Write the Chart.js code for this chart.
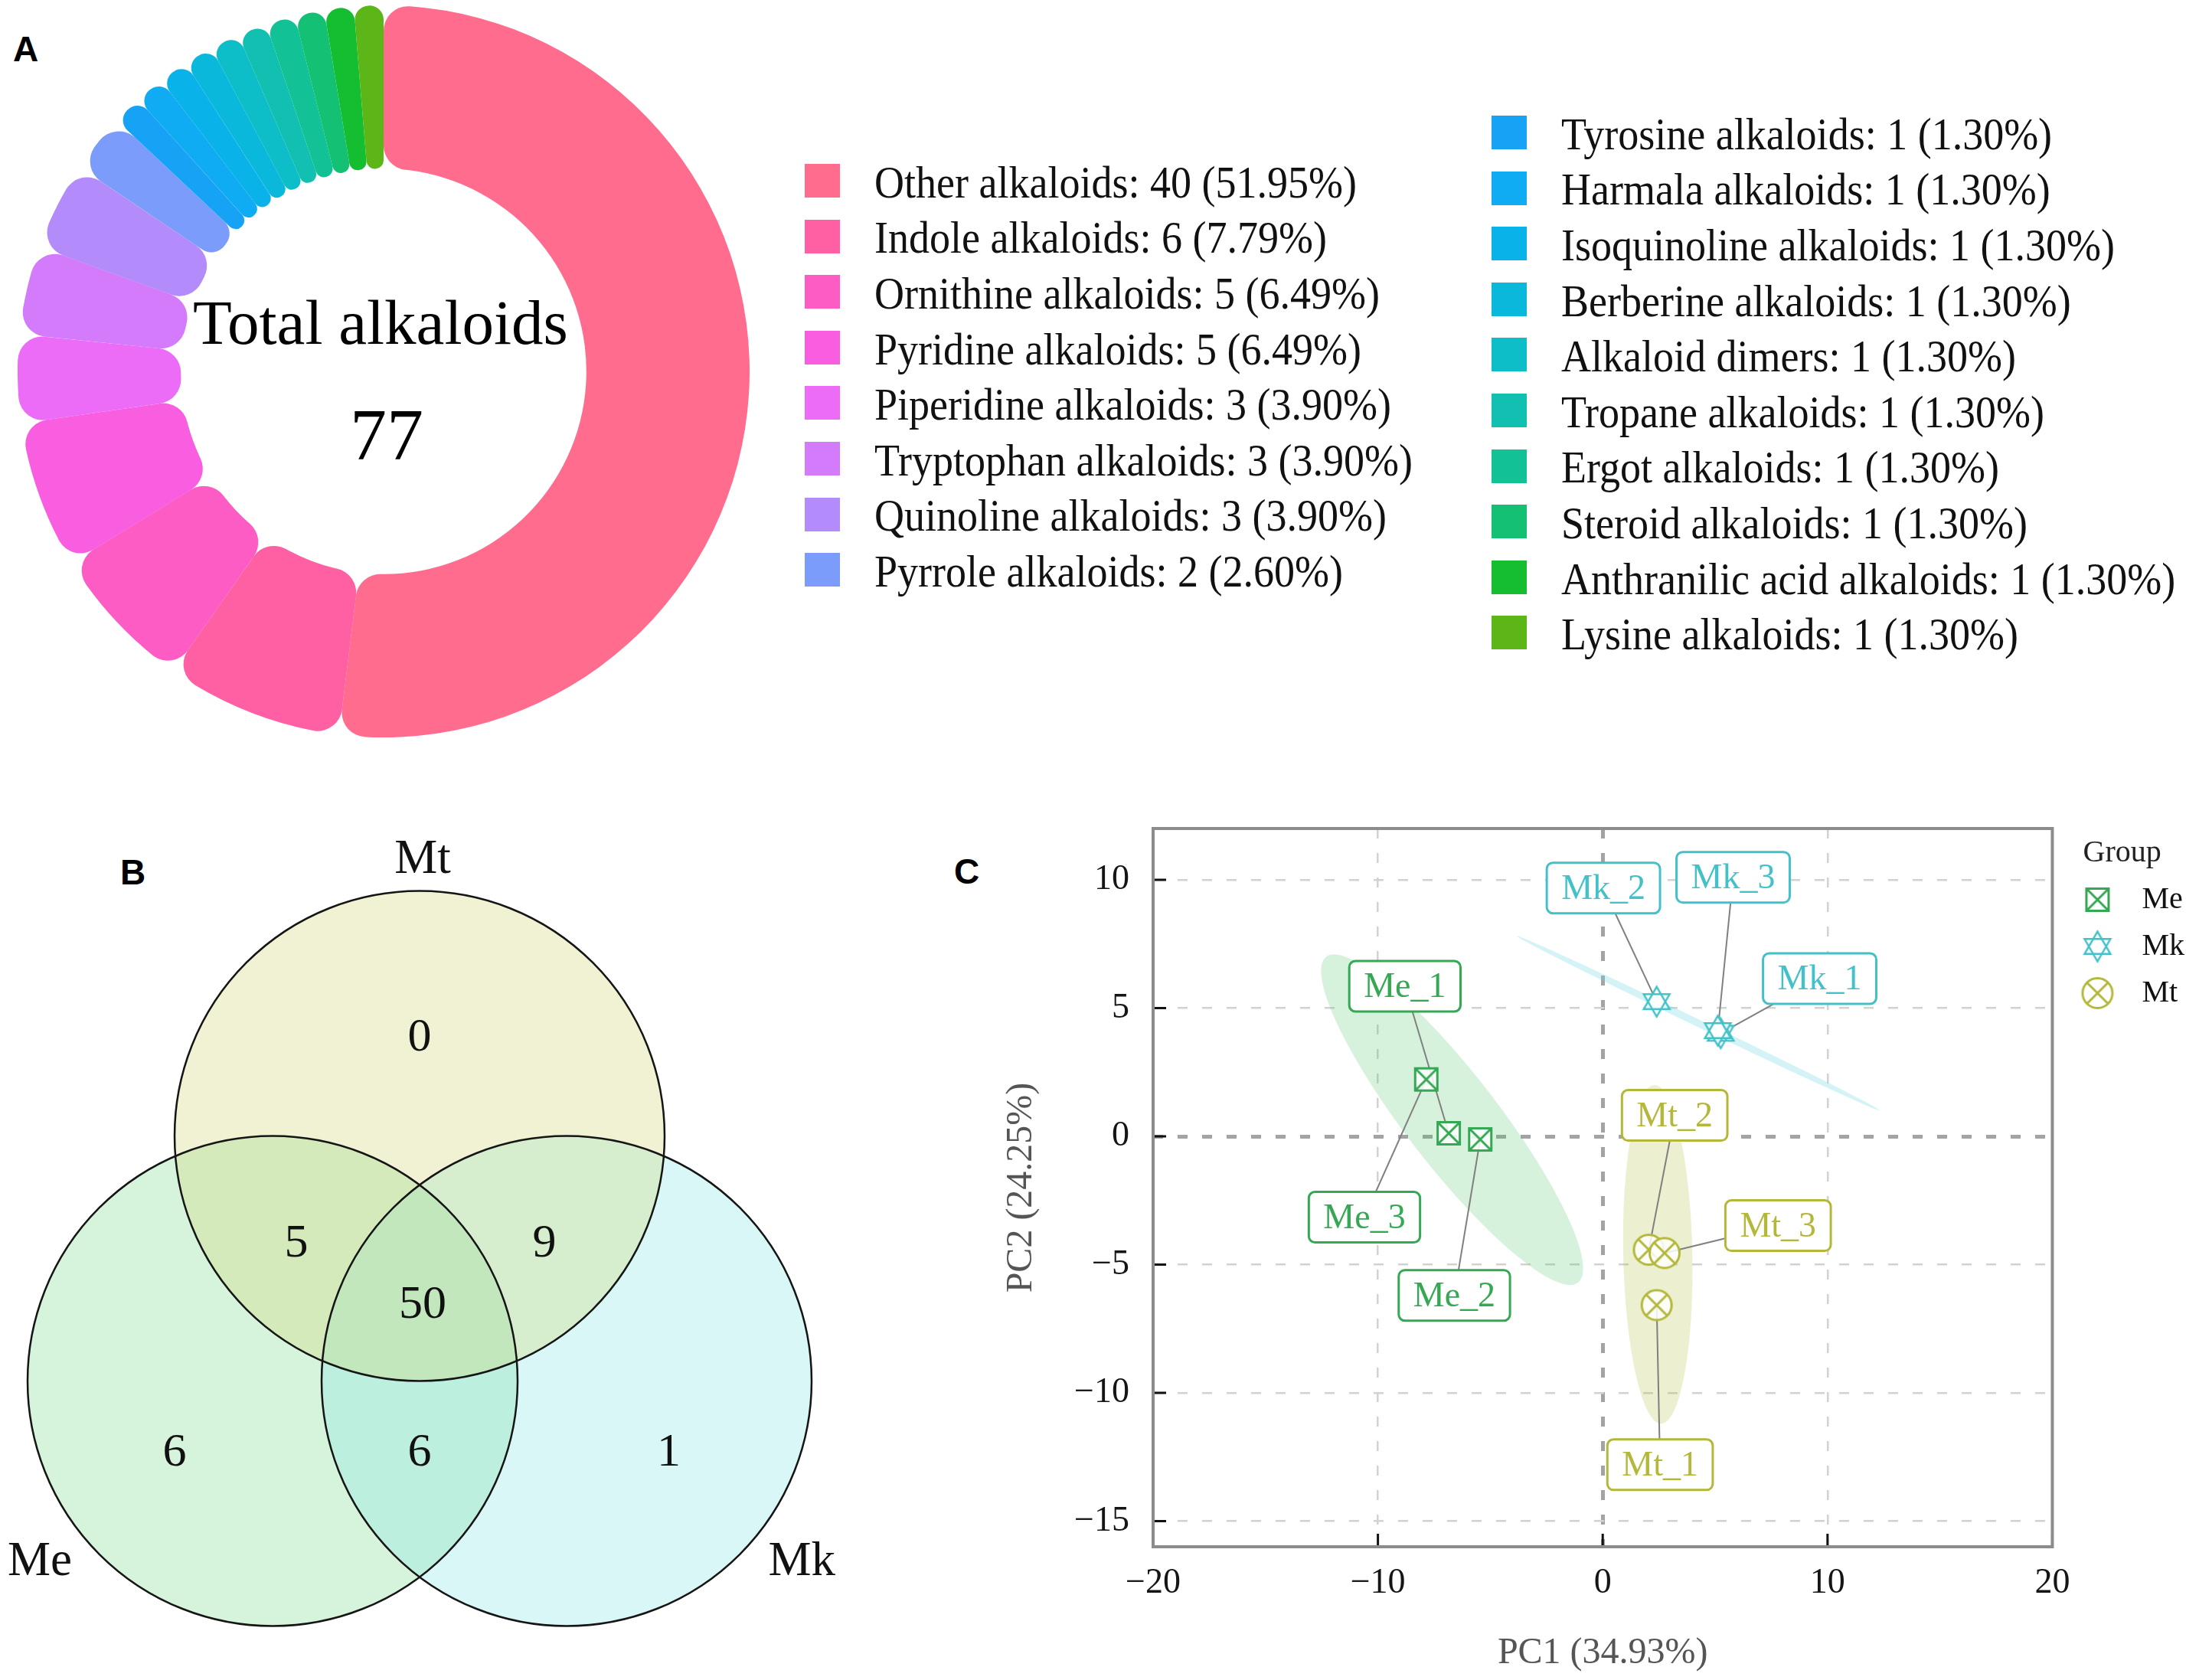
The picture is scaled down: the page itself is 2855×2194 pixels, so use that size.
<!DOCTYPE html>
<html>
<head>
<meta charset="utf-8">
<script src="https://cdn.jsdelivr.net/npm/chart.js@4.4.1/dist/chart.umd.min.js"></script>
<style>
html,body{margin:0;padding:0;background:#fff;}
body{width:2855px;height:2194px;overflow:hidden;position:relative;font-family:'Liberation Serif','Times New Roman',serif;}
canvas{position:absolute;}
.panel{position:absolute;font-family:'Liberation Sans',Arial,sans-serif;font-weight:bold;font-size:46px;line-height:46px;color:#000;}
.ctext{position:absolute;color:#000;white-space:nowrap;text-align:center;}
.sw{position:absolute;width:46px;height:44px;}
.lt{position:absolute;font-size:60px;line-height:60px;white-space:nowrap;transform:scaleX(0.9);transform-origin:0 0;color:#111;}
</style>
</head>
<body>
<div class="panel" style="left:17px;top:41px">A</div>
<div class="panel" style="left:157px;top:1116px">B</div>
<div class="panel" style="left:1246px;top:1115px">C</div>

<canvas id="donut" width="956" height="956" style="left:23px;top:7px;width:956px;height:956px"></canvas>
<div id="centerTitle" class="ctext" style="left:197px;width:600px;top:380px;font-size:83px;line-height:83px"></div>
<div id="centerTotal" class="ctext" style="left:305px;width:400px;top:520px;font-size:96px;line-height:96px"></div>
<div id="legendA"></div>

<canvas id="venn" width="1100" height="1104" style="left:0px;top:1090px;width:1100px;height:1104px"></canvas>
<canvas id="pca" width="1623" height="1194" style="left:1240px;top:1000px;width:1623px;height:1194px"></canvas>

<script>
// ================= DATA =================
// Panel A: alkaloid classes
const alkaloidClasses = ['Other alkaloids','Indole alkaloids','Ornithine alkaloids','Pyridine alkaloids','Piperidine alkaloids','Tryptophan alkaloids','Quinoline alkaloids','Pyrrole alkaloids','Tyrosine alkaloids','Harmala alkaloids','Isoquinoline alkaloids','Berberine alkaloids','Alkaloid dimers','Tropane alkaloids','Ergot alkaloids','Steroid alkaloids','Anthranilic acid alkaloids','Lysine alkaloids'];
const alkaloidCounts = [40,6,5,5,3,3,3,2,1,1,1,1,1,1,1,1,1,1];
const alkaloidColors = ['#FF6C8E','#FF5FA3','#FD5CC4','#FA5EE0','#EC6BF7','#D47BFB','#B38BFA','#7C9CFB','#17A3F5','#0FABF3','#0AB2EA','#0AB8DB','#0DBDC8','#12C0B2','#12C196','#14C073','#14BE30','#5DB617'];
const centerTitleText = 'Total alkaloids';

// Panel B: Venn
const vennSets = ['Me','Mk','Mt'];
const vennRegions = ['Mt only','Me∩Mt','Mt∩Mk','Me∩Mk∩Mt','Me only','Me∩Mk','Mk only'];
const vennCounts = [0,5,9,50,6,6,1];

// Panel C: PCA
const pcaGroups = ['Me','Mk','Mt'];
const meSamples = ['Me_1','Me_2','Me_3'];
const mePC1 = [-6.85,-5.45,-7.85];
const mePC2 = [0.12,-0.12,2.22];
const mkSamples = ['Mk_1','Mk_2','Mk_3'];
const mkPC1 = [5.25,2.4,5.12];
const mkPC2 = [4.02,5.25,4.12];
const mtSamples = ['Mt_1','Mt_2','Mt_3'];
const mtPC1 = [2.4,2.05,2.75];
const mtPC2 = [-6.58,-4.42,-4.55];
const pc1Title = 'PC1 (34.93%)';
const pc2Title = 'PC2 (24.25%)';
const legendTitle = 'Group';

// ================= LAYOUT / STYLE =================
const groupColors = {Me:'#34a853', Mk:'#43c1c8', Mt:'#b3b83a'};
// label box centres (data units) for the repelled sample labels
const meLabelPos = [[-8.8,5.85],[-6.6,-6.2],[-10.6,-3.15]];
const mkLabelPos = [[9.65,6.15],[0.03,9.68],[5.8,10.1]];
const mtLabelPos = [[2.55,-12.8],[3.2,0.82],[7.8,-3.48]];
// confidence ellipses: major-axis endpoints (data units) + minor/major ratio
const ellipseStyles = [
  {from:[-12.3,7.0], to:[-1.1,-5.7], ratio:0.223, fill:'rgba(70,190,95,0.22)'},
  {from:[-3.8,7.8], to:[12.33,1.01], ratio:0.018, fill:'rgba(110,215,225,0.3)'},
  {from:[2.3,2.0], to:[2.6,-11.2], ratio:0.204, fill:'rgba(185,190,70,0.25)'}
];
// Venn layout in circle-radius units
const vennCentres = [[-0.6,-0.5],[0.6,-0.5],[0,0.5]];
const vennFills = ['rgba(120,215,135,0.30)','rgba(130,228,228,0.30)','rgba(205,212,110,0.30)'];
const vennRegionPos = [[0,0.9],[-0.503,0.058],[0.509,0.058],[0.0125,-0.19],[-1.0,-0.793],[0,-0.793],[1.017,-0.793]];
const vennSetLabelPos = [[-1.55,-1.24],[1.56,-1.24],[0.0125,1.624]];

Chart.defaults.font.family = "'Liberation Serif','Times New Roman',serif";
Chart.defaults.color = '#111';

// ================= PANEL A =================
const total = alkaloidCounts.reduce((a,b)=>a+b,0);
document.getElementById('centerTitle').textContent = centerTitleText;
document.getElementById('centerTotal').textContent = String(total);

new Chart(document.getElementById('donut'), {
  type:'doughnut',
  data:{labels:alkaloidClasses, datasets:[{data:alkaloidCounts, backgroundColor:alkaloidColors, borderWidth:0, borderRadius:32}]},
  options:{responsive:false, animation:false, events:[], cutout:'55.4%',
    plugins:{legend:{display:false}, tooltip:{enabled:false}}}
});

(function buildLegend(){
  const host = document.getElementById('legendA');
  alkaloidClasses.forEach((name,i)=>{
    const left = i < 8;
    const k = left ? i : i-8;
    const cy = left ? 236 + k*72.6 : 173 + k*72.6;
    const sx = left ? 1051 : 1948;
    const tx = left ? 1142 : 2039;
    const sw = document.createElement('div');
    sw.className = 'sw';
    sw.style.left = sx+'px'; sw.style.top = (cy-22)+'px';
    sw.style.background = alkaloidColors[i];
    host.appendChild(sw);
    const t = document.createElement('div');
    t.className = 'lt';
    t.style.left = tx+'px'; t.style.top = (cy-28.25)+'px';
    const pct = (alkaloidCounts[i]/total*100).toFixed(2);
    t.textContent = name + ': ' + alkaloidCounts[i] + ' (' + pct + '%)';
    host.appendChild(t);
  });
})();

// ================= PANEL B =================
const unitPx = ctx => { const s = ctx.chart.scales.x; return s.getPixelForValue(1) - s.getPixelForValue(0); };
const vennText = {
  id:'vennText',
  afterDatasetsDraw(chart){
    const {ctx, scales:{x,y}} = chart;
    ctx.save();
    ctx.fillStyle = '#111';
    ctx.textAlign = 'center';
    ctx.textBaseline = 'middle';
    ctx.font = "62px 'Liberation Serif'";
    vennCounts.forEach((c,i)=>{
      ctx.fillText(String(c), x.getPixelForValue(vennRegionPos[i][0]), y.getPixelForValue(vennRegionPos[i][1]));
    });
    ctx.font = "63px 'Liberation Serif'";
    vennSets.forEach((s,i)=>{
      ctx.fillText(s, x.getPixelForValue(vennSetLabelPos[i][0]), y.getPixelForValue(vennSetLabelPos[i][1]));
    });
    ctx.restore();
  }
};
new Chart(document.getElementById('venn'), {
  type:'scatter',
  data:{datasets:[
    {label:'outline', data:vennCentres.map(p=>({x:p[0],y:p[1]})), pointRadius:unitPx, pointBackgroundColor:'rgba(0,0,0,0)', pointBorderColor:'#151515', pointBorderWidth:2.5},
    {label:'fill', data:vennCentres.map(p=>({x:p[0],y:p[1]})), pointRadius:unitPx, pointBackgroundColor:vennFills, pointBorderWidth:0}
  ]},
  options:{responsive:false, animation:false, events:[], layout:{padding:0},
    plugins:{legend:{display:false}, tooltip:{enabled:false}},
    scales:{x:{type:'linear', display:false, min:-1.7125, max:1.725}, y:{type:'linear', display:false, min:-1.7203, max:1.7297}}},
  plugins:[vennText]
});

// ================= PANEL C =================
function makeMarker(kind, color){
  const size = kind === 'box' ? 34 : 44;
  const c = document.createElement('canvas');
  c.width = size; c.height = size;
  const g = c.getContext('2d');
  g.strokeStyle = color; g.lineWidth = 3; g.fillStyle = 'rgba(255,255,255,0.85)';
  const m = 2.5, s = size, cx = s/2, cy = s/2;
  const tri = angs => {
    const R = s/2 - 2.5;
    g.beginPath();
    angs.forEach((a,j)=>{ const r = a*Math.PI/180; const px = cx + R*Math.cos(r), py = cy + R*Math.sin(r); if(j===0) g.moveTo(px,py); else g.lineTo(px,py); });
    g.closePath();
  };
  if (kind === 'box'){
    g.fillRect(m,m,s-2*m,s-2*m);
    g.strokeRect(m,m,s-2*m,s-2*m);
    g.beginPath(); g.moveTo(m,m); g.lineTo(s-m,s-m); g.moveTo(s-m,m); g.lineTo(m,s-m); g.stroke();
  } else if (kind === 'star'){
    g.lineWidth = 2.5;
    tri([-90,30,150]); g.fill();
    tri([90,210,330]); g.fill();
    tri([-90,30,150]); g.stroke();
    tri([90,210,330]); g.stroke();
  } else {
    const R = s/2 - 2.5;
    g.beginPath(); g.arc(cx,cy,R,0,Math.PI*2); g.fill(); g.stroke();
    const d = R*Math.SQRT1_2;
    g.beginPath(); g.moveTo(cx-d,cy-d); g.lineTo(cx+d,cy+d); g.moveTo(cx+d,cy-d); g.lineTo(cx-d,cy+d); g.stroke();
  }
  return c;
}
const markerMe = makeMarker('box', groupColors.Me);
const markerMk = makeMarker('star', groupColors.Mk);
const markerMt = makeMarker('circle', groupColors.Mt);

const groupSeries = [
  {name:'Me', samples:meSamples, xs:mePC1, ys:mePC2, labels:meLabelPos},
  {name:'Mk', samples:mkSamples, xs:mkPC1, ys:mkPC2, labels:mkLabelPos},
  {name:'Mt', samples:mtSamples, xs:mtPC1, ys:mtPC2, labels:mtLabelPos}
];
const minus = v => v < 0 ? '\u2212' + Math.abs(v) : String(v);

const pcaDecor = {
  id:'pcaDecor',
  beforeDatasetsDraw(chart){
    const {ctx, chartArea:a, scales:{x,y}} = chart;
    ctx.save();
    ctx.beginPath(); ctx.rect(a.left,a.top,a.width,a.height); ctx.clip();
    ellipseStyles.forEach(e=>{
      const x1 = x.getPixelForValue(e.from[0]), y1 = y.getPixelForValue(e.from[1]);
      const x2 = x.getPixelForValue(e.to[0]), y2 = y.getPixelForValue(e.to[1]);
      const cx = (x1+x2)/2, cy = (y1+y2)/2;
      const ra = Math.hypot(x2-x1,y2-y1)/2;
      const ang = Math.atan2(y2-y1,x2-x1);
      ctx.beginPath(); ctx.ellipse(cx,cy,ra,ra*e.ratio,ang,0,Math.PI*2);
      ctx.fillStyle = e.fill; ctx.fill();
    });
    ctx.strokeStyle = '#808080'; ctx.lineWidth = 2;
    groupSeries.forEach(gs=>{
      gs.samples.forEach((s,i)=>{
        ctx.beginPath();
        ctx.moveTo(x.getPixelForValue(gs.xs[i]), y.getPixelForValue(gs.ys[i]));
        ctx.lineTo(x.getPixelForValue(gs.labels[i][0]), y.getPixelForValue(gs.labels[i][1]));
        ctx.stroke();
      });
    });
    ctx.restore();
  },
  afterDatasetsDraw(chart){
    const {ctx, scales:{x,y}} = chart;
    ctx.save();
    ctx.font = "46px 'Liberation Serif'";
    ctx.textAlign = 'center'; ctx.textBaseline = 'middle';
    groupSeries.forEach(gs=>{
      const col = groupColors[gs.name];
      gs.samples.forEach((s,i)=>{
        const cx = x.getPixelForValue(gs.labels[i][0]), cy = y.getPixelForValue(gs.labels[i][1]);
        const w = ctx.measureText(s).width + 38, h = 66;
        ctx.beginPath(); ctx.roundRect(cx-w/2, cy-h/2, w, h, 8);
        ctx.fillStyle = '#fff'; ctx.fill();
        ctx.lineWidth = 3; ctx.strokeStyle = col; ctx.stroke();
        ctx.fillStyle = col; ctx.fillText(s, cx, cy+2);
      });
    });
    ctx.restore();
  },
  afterDraw(chart){
    const {ctx, chartArea:a, scales:{x,y}} = chart;
    ctx.save();
    ctx.strokeStyle = '#111'; ctx.lineWidth = 3;
    x.ticks.forEach(t=>{ const px = x.getPixelForValue(t.value); ctx.beginPath(); ctx.moveTo(px,a.bottom); ctx.lineTo(px,a.bottom-17); ctx.stroke(); });
    y.ticks.forEach(t=>{ const py = y.getPixelForValue(t.value); ctx.beginPath(); ctx.moveTo(a.left,py); ctx.lineTo(a.left+17,py); ctx.stroke(); });
    ctx.strokeStyle = '#8c8c8c'; ctx.lineWidth = 4;
    ctx.strokeRect(a.left, a.top, a.width, a.height);
    ctx.restore();
  }
};

const gridColor = c => (c.tick && c.tick.value === 0) ? '#a3a3a3' : '#d2d2d2';
const gridWidth = c => (c.tick && c.tick.value === 0) ? 5 : 2.5;

new Chart(document.getElementById('pca'), {
  type:'scatter',
  data:{datasets:[
    {label:pcaGroups[0], data:mePC1.map((v,i)=>({x:v,y:mePC2[i]})), pointStyle:markerMe, pointRadius:16, borderColor:groupColors.Me, backgroundColor:groupColors.Me},
    {label:pcaGroups[1], data:mkPC1.map((v,i)=>({x:v,y:mkPC2[i]})), pointStyle:markerMk, pointRadius:20, borderColor:groupColors.Mk, backgroundColor:groupColors.Mk},
    {label:pcaGroups[2], data:mtPC1.map((v,i)=>({x:v,y:mtPC2[i]})), pointStyle:markerMt, pointRadius:20, borderColor:groupColors.Mt, backgroundColor:groupColors.Mt}
  ]},
  options:{responsive:false, animation:false, events:[],
    layout:{padding:{top:82,left:0,right:0,bottom:0}},
    plugins:{
      tooltip:{enabled:false},
      legend:{display:true, position:'right', align:'start',
        title:{display:true, text:legendTitle, color:'#222', font:{size:40, lineHeight:1}, padding:{top:12,bottom:0}},
        labels:{usePointStyle:true, pointStyleWidth:76, padding:21, color:'#111', font:{size:40}}}
    },
    scales:{
      x:{type:'linear', min:-20, max:20,
        ticks:{stepSize:10, padding:20, color:'#151515', font:{size:46}, callback:v=>minus(v), includeBounds:false},
        grid:{color:gridColor, lineWidth:gridWidth, drawTicks:false},
        border:{display:false, dash:[13,19]},
        title:{display:true, text:pc1Title, color:'#555', font:{size:48}, padding:{top:0,bottom:6}},
        afterFit:s=>{ s.height = 174; }},
      y:{type:'linear', min:-16, max:12,
        ticks:{stepSize:5, padding:31, color:'#151515', font:{size:46}, callback:v=>minus(v), includeBounds:false},
        grid:{color:gridColor, lineWidth:gridWidth, drawTicks:false},
        border:{display:false, dash:[13,19]},
        title:{display:true, text:pc2Title, color:'#555', font:{size:48}, padding:{top:66,bottom:0}},
        afterFit:s=>{ s.width = 266; }}
    }
  },
  plugins:[pcaDecor]
});
</script>
</body>
</html>
